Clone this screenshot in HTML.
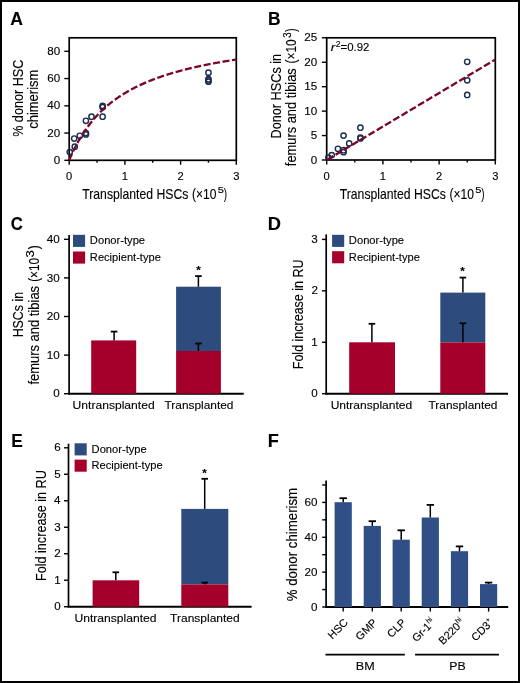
<!DOCTYPE html>
<html><head><meta charset="utf-8"><style>
html,body{margin:0;padding:0;background:#fff;}
svg{display:block;will-change:transform;}
text{font-family:"Liberation Sans", sans-serif;fill:#000;stroke:#000;stroke-width:0.12px;}
</style></head><body>
<svg width="520" height="683" viewBox="0 0 520 683">
<rect x="0" y="0" width="520" height="683" fill="#fff"/>
<text x="10.36" y="25.00" font-size="17.7" font-weight="bold" textLength="12.70" lengthAdjust="spacingAndGlyphs">A</text>
<text x="267.94" y="25.00" font-size="17.7" font-weight="bold" textLength="12.55" lengthAdjust="spacingAndGlyphs">B</text>
<text x="10.66" y="230.40" font-size="17.7" font-weight="bold" textLength="12.09" lengthAdjust="spacingAndGlyphs">C</text>
<text x="267.88" y="229.90" font-size="17.7" font-weight="bold" textLength="13.19" lengthAdjust="spacingAndGlyphs">D</text>
<text x="11.34" y="447.40" font-size="17.7" font-weight="bold" textLength="11.53" lengthAdjust="spacingAndGlyphs">E</text>
<text x="267.89" y="447.40" font-size="17.7" font-weight="bold" textLength="11.08" lengthAdjust="spacingAndGlyphs">F</text>
<rect x="69.2" y="37.8" width="167.10" height="122.50" fill="none" stroke="#000" stroke-width="1.7"/>
<line x1="64.30" y1="160.30" x2="69.20" y2="160.30" stroke="#000" stroke-width="1.4"/>
<text x="53.78" y="163.91" font-size="11.2" textLength="6.48" lengthAdjust="spacingAndGlyphs">0</text>
<line x1="64.30" y1="133.05" x2="69.20" y2="133.05" stroke="#000" stroke-width="1.4"/>
<text x="47.30" y="136.66" font-size="11.2" textLength="12.96" lengthAdjust="spacingAndGlyphs">20</text>
<line x1="64.30" y1="105.80" x2="69.20" y2="105.80" stroke="#000" stroke-width="1.4"/>
<text x="47.30" y="109.41" font-size="11.2" textLength="12.96" lengthAdjust="spacingAndGlyphs">40</text>
<line x1="64.30" y1="78.55" x2="69.20" y2="78.55" stroke="#000" stroke-width="1.4"/>
<text x="47.30" y="82.16" font-size="11.2" textLength="12.96" lengthAdjust="spacingAndGlyphs">60</text>
<line x1="64.30" y1="51.30" x2="69.20" y2="51.30" stroke="#000" stroke-width="1.4"/>
<text x="47.30" y="54.91" font-size="11.2" textLength="12.96" lengthAdjust="spacingAndGlyphs">80</text>
<line x1="69.20" y1="160.30" x2="69.20" y2="164.70" stroke="#000" stroke-width="1.4"/>
<text x="66.09" y="179.50" font-size="11.2" textLength="6.23" lengthAdjust="spacingAndGlyphs">0</text>
<line x1="97.05" y1="160.30" x2="97.05" y2="162.70" stroke="#000" stroke-width="1.4"/>
<line x1="124.90" y1="160.30" x2="124.90" y2="164.70" stroke="#000" stroke-width="1.4"/>
<text x="121.63" y="179.50" font-size="11.2" textLength="6.23" lengthAdjust="spacingAndGlyphs">1</text>
<line x1="152.75" y1="160.30" x2="152.75" y2="162.70" stroke="#000" stroke-width="1.4"/>
<line x1="180.60" y1="160.30" x2="180.60" y2="164.70" stroke="#000" stroke-width="1.4"/>
<text x="177.49" y="179.50" font-size="11.2" textLength="6.23" lengthAdjust="spacingAndGlyphs">2</text>
<line x1="208.45" y1="160.30" x2="208.45" y2="162.70" stroke="#000" stroke-width="1.4"/>
<line x1="236.30" y1="160.30" x2="236.30" y2="164.70" stroke="#000" stroke-width="1.4"/>
<text x="233.22" y="179.50" font-size="11.2" textLength="6.23" lengthAdjust="spacingAndGlyphs">3</text>
<text x="82.23" y="198.50" font-size="14.4" textLength="106.11" lengthAdjust="spacingAndGlyphs">Transplanted HSCs</text>
<text x="191.95" y="198.50" font-size="14.4" textLength="24.42" lengthAdjust="spacingAndGlyphs">(×10</text>
<text x="217.85" y="193.30" font-size="9.5" textLength="6.22" lengthAdjust="spacingAndGlyphs">5</text>
<text x="223.84" y="198.50" font-size="14.4" textLength="3.27" lengthAdjust="spacingAndGlyphs">)</text>
<text transform="translate(23.00,136.85) rotate(-90)" font-size="14.4" textLength="77.13" lengthAdjust="spacingAndGlyphs">% donor HSC</text>
<text transform="translate(38.40,128.85) rotate(-90)" font-size="14.4" textLength="59.21" lengthAdjust="spacingAndGlyphs">chimerism</text>
<circle cx="69.76" cy="152.12" r="2.65" fill="none" stroke="#1b2f52" stroke-width="1.45"/>
<circle cx="74.21" cy="138.50" r="2.65" fill="none" stroke="#1b2f52" stroke-width="1.45"/>
<circle cx="74.77" cy="146.68" r="2.65" fill="none" stroke="#1b2f52" stroke-width="1.45"/>
<circle cx="79.78" cy="135.78" r="2.65" fill="none" stroke="#1b2f52" stroke-width="1.45"/>
<circle cx="85.91" cy="120.79" r="2.65" fill="none" stroke="#1b2f52" stroke-width="1.45"/>
<circle cx="85.91" cy="133.05" r="2.65" fill="none" stroke="#1b2f52" stroke-width="1.45"/>
<circle cx="85.91" cy="134.41" r="2.65" fill="none" stroke="#1b2f52" stroke-width="1.45"/>
<circle cx="91.48" cy="116.70" r="2.65" fill="none" stroke="#1b2f52" stroke-width="1.45"/>
<circle cx="102.62" cy="105.80" r="2.65" fill="none" stroke="#1b2f52" stroke-width="1.45"/>
<circle cx="102.62" cy="107.16" r="2.65" fill="none" stroke="#1b2f52" stroke-width="1.45"/>
<circle cx="102.62" cy="116.70" r="2.65" fill="none" stroke="#1b2f52" stroke-width="1.45"/>
<circle cx="208.45" cy="72.69" r="2.65" fill="none" stroke="#1b2f52" stroke-width="1.45"/>
<circle cx="208.45" cy="79.23" r="2.65" fill="none" stroke="#1b2f52" stroke-width="1.45"/>
<circle cx="208.45" cy="80.46" r="2.65" fill="none" stroke="#1b2f52" stroke-width="1.45"/>
<circle cx="208.45" cy="81.68" r="2.65" fill="none" stroke="#1b2f52" stroke-width="1.45"/>
<polyline points="69.20,160.30 69.76,158.97 70.31,157.67 70.87,156.39 71.43,155.13 71.98,153.90 72.54,152.70 73.10,151.51 73.66,150.35 74.21,149.21 74.77,148.09 75.33,146.99 75.88,145.91 76.44,144.84 77.00,143.80 77.56,142.78 78.11,141.77 78.67,140.78 79.23,139.81 79.78,138.85 80.34,137.91 80.90,136.98 81.45,136.07 82.01,135.18 82.57,134.30 83.12,133.43 83.68,132.58 84.24,131.74 84.80,130.91 85.35,130.10 85.91,129.30 86.47,128.51 87.02,127.73 87.58,126.97 88.14,126.21 88.70,125.47 89.25,124.74 89.81,124.02 90.37,123.31 90.92,122.61 91.48,121.92 92.04,121.24 92.59,120.56 93.15,119.90 93.71,119.25 94.27,118.61 94.82,117.97 95.38,117.35 95.94,116.73 96.49,116.12 97.05,115.52 97.61,114.93 98.16,114.34 98.72,113.76 99.28,113.19 99.84,112.63 100.39,112.07 100.95,111.53 101.51,110.98 102.06,110.45 102.62,109.92 103.18,109.40 103.73,108.88 104.29,108.38 104.85,107.87 105.41,107.38 105.96,106.89 106.52,106.40 107.08,105.92 107.63,105.45 108.19,104.98 108.75,104.52 109.30,104.06 109.86,103.61 110.42,103.17 110.98,102.72 111.53,102.29 112.09,101.86 112.65,101.43 113.20,101.01 113.76,100.59 114.32,100.18 114.87,99.77 115.43,99.37 115.99,98.97 116.55,98.58 117.10,98.18 117.66,97.80 118.22,97.42 118.77,97.04 119.33,96.66 119.89,96.29 120.44,95.93 121.00,95.57 121.56,95.21 122.12,94.85 122.67,94.50 123.23,94.15 123.79,93.81 124.34,93.47 124.90,93.13 125.46,92.79 126.01,92.46 126.57,92.14 127.13,91.81 127.69,91.49 128.24,91.17 128.80,90.86 129.36,90.55 129.91,90.24 130.47,89.93 131.03,89.63 131.58,89.33 132.14,89.03 132.70,88.73 133.25,88.44 133.81,88.15 134.37,87.87 134.93,87.58 135.48,87.30 136.04,87.02 136.60,86.75 137.15,86.47 137.71,86.20 138.27,85.93 138.83,85.67 139.38,85.40 139.94,85.14 140.50,84.88 141.05,84.62 141.61,84.37 142.17,84.11 142.72,83.86 143.28,83.62 143.84,83.37 144.40,83.12 144.95,82.88 145.51,82.64 146.07,82.40 146.62,82.17 147.18,81.93 147.74,81.70 148.29,81.47 148.85,81.24 149.41,81.02 149.97,80.79 150.52,80.57 151.08,80.35 151.64,80.13 152.19,79.91 152.75,79.69 153.31,79.48 153.86,79.27 154.42,79.06 154.98,78.85 155.54,78.64 156.09,78.44 156.65,78.23 157.21,78.03 157.76,77.83 158.32,77.63 158.88,77.43 159.43,77.23 159.99,77.04 160.55,76.84 161.11,76.65 161.66,76.46 162.22,76.27 162.78,76.09 163.33,75.90 163.89,75.71 164.45,75.53 165.00,75.35 165.56,75.17 166.12,74.99 166.68,74.81 167.23,74.63 167.79,74.46 168.35,74.28 168.90,74.11 169.46,73.94 170.02,73.77 170.57,73.60 171.13,73.43 171.69,73.26 172.25,73.10 172.80,72.93 173.36,72.77 173.92,72.60 174.47,72.44 175.03,72.28 175.59,72.12 176.14,71.97 176.70,71.81 177.26,71.65 177.82,71.50 178.37,71.34 178.93,71.19 179.49,71.04 180.04,70.89 180.60,70.74 181.16,70.59 181.71,70.44 182.27,70.29 182.83,70.15 183.39,70.00 183.94,69.86 184.50,69.72 185.06,69.58 185.61,69.43 186.17,69.29 186.73,69.15 187.28,69.02 187.84,68.88 188.40,68.74 188.96,68.61 189.51,68.47 190.07,68.34 190.63,68.20 191.18,68.07 191.74,67.94 192.30,67.81 192.85,67.68 193.41,67.55 193.97,67.42 194.53,67.29 195.08,67.17 195.64,67.04 196.20,66.92 196.75,66.79 197.31,66.67 197.87,66.54 198.42,66.42 198.98,66.30 199.54,66.18 200.10,66.06 200.65,65.94 201.21,65.82 201.77,65.70 202.32,65.59 202.88,65.47 203.44,65.35 203.99,65.24 204.55,65.12 205.11,65.01 205.67,64.90 206.22,64.78 206.78,64.67 207.34,64.56 207.89,64.45 208.45,64.34 209.01,64.23 209.56,64.12 210.12,64.01 210.68,63.91 211.24,63.80 211.79,63.69 212.35,63.59 212.91,63.48 213.46,63.38 214.02,63.27 214.58,63.17 215.13,63.07 215.69,62.97 216.25,62.86 216.81,62.76 217.36,62.66 217.92,62.56 218.48,62.46 219.03,62.36 219.59,62.27 220.15,62.17 220.70,62.07 221.26,61.97 221.82,61.88 222.38,61.78 222.93,61.69 223.49,61.59 224.05,61.50 224.60,61.40 225.16,61.31 225.72,61.22 226.27,61.13 226.83,61.03 227.39,60.94 227.95,60.85 228.50,60.76 229.06,60.67 229.62,60.58 230.17,60.49 230.73,60.40 231.29,60.32 231.84,60.23 232.40,60.14 232.96,60.05 233.52,59.97 234.07,59.88 234.63,59.80 235.19,59.71 235.74,59.63 236.30,59.54" fill="none" stroke="#7d0428" stroke-width="2.3" stroke-dasharray="7 2.6" stroke-dashoffset="0"/>
<rect x="326.7" y="37.8" width="168.60" height="122.20" fill="none" stroke="#000" stroke-width="1.7"/>
<line x1="321.80" y1="160.00" x2="326.70" y2="160.00" stroke="#000" stroke-width="1.4"/>
<text x="310.68" y="163.61" font-size="11.2" textLength="6.48" lengthAdjust="spacingAndGlyphs">0</text>
<line x1="321.80" y1="135.56" x2="326.70" y2="135.56" stroke="#000" stroke-width="1.4"/>
<text x="310.71" y="139.17" font-size="11.2" textLength="6.48" lengthAdjust="spacingAndGlyphs">5</text>
<line x1="321.80" y1="111.12" x2="326.70" y2="111.12" stroke="#000" stroke-width="1.4"/>
<text x="304.20" y="114.73" font-size="11.2" textLength="12.96" lengthAdjust="spacingAndGlyphs">10</text>
<line x1="321.80" y1="86.68" x2="326.70" y2="86.68" stroke="#000" stroke-width="1.4"/>
<text x="304.23" y="90.29" font-size="11.2" textLength="12.96" lengthAdjust="spacingAndGlyphs">15</text>
<line x1="321.80" y1="62.24" x2="326.70" y2="62.24" stroke="#000" stroke-width="1.4"/>
<text x="304.20" y="65.85" font-size="11.2" textLength="12.96" lengthAdjust="spacingAndGlyphs">20</text>
<line x1="321.80" y1="37.80" x2="326.70" y2="37.80" stroke="#000" stroke-width="1.4"/>
<text x="304.23" y="41.41" font-size="11.2" textLength="12.96" lengthAdjust="spacingAndGlyphs">25</text>
<line x1="326.70" y1="160.00" x2="326.70" y2="164.40" stroke="#000" stroke-width="1.4"/>
<text x="323.59" y="179.50" font-size="11.2" textLength="6.23" lengthAdjust="spacingAndGlyphs">0</text>
<line x1="354.80" y1="160.00" x2="354.80" y2="162.40" stroke="#000" stroke-width="1.4"/>
<line x1="382.90" y1="160.00" x2="382.90" y2="164.40" stroke="#000" stroke-width="1.4"/>
<text x="379.63" y="179.50" font-size="11.2" textLength="6.23" lengthAdjust="spacingAndGlyphs">1</text>
<line x1="411.00" y1="160.00" x2="411.00" y2="162.40" stroke="#000" stroke-width="1.4"/>
<line x1="439.10" y1="160.00" x2="439.10" y2="164.40" stroke="#000" stroke-width="1.4"/>
<text x="435.99" y="179.50" font-size="11.2" textLength="6.23" lengthAdjust="spacingAndGlyphs">2</text>
<line x1="467.20" y1="160.00" x2="467.20" y2="162.40" stroke="#000" stroke-width="1.4"/>
<line x1="495.30" y1="160.00" x2="495.30" y2="164.40" stroke="#000" stroke-width="1.4"/>
<text x="492.22" y="179.50" font-size="11.2" textLength="6.23" lengthAdjust="spacingAndGlyphs">3</text>
<text x="339.73" y="198.50" font-size="14.4" textLength="106.11" lengthAdjust="spacingAndGlyphs">Transplanted HSCs</text>
<text x="449.45" y="198.50" font-size="14.4" textLength="24.42" lengthAdjust="spacingAndGlyphs">(×10</text>
<text x="475.35" y="193.30" font-size="9.5" textLength="6.22" lengthAdjust="spacingAndGlyphs">5</text>
<text x="481.34" y="198.50" font-size="14.4" textLength="3.27" lengthAdjust="spacingAndGlyphs">)</text>
<text transform="translate(280.60,138.44) rotate(-90)" font-size="14.4" textLength="84.56" lengthAdjust="spacingAndGlyphs">Donor HSCs in</text>
<text transform="translate(296.30,166.18) rotate(-90)" font-size="14.4" textLength="97.95" lengthAdjust="spacingAndGlyphs">femurs and tibias</text>
<text transform="translate(296.30,63.44) rotate(-90)" font-size="14.4" textLength="24.10" lengthAdjust="spacingAndGlyphs">(×10</text>
<text transform="translate(290.90,37.67) rotate(-90)" font-size="10" textLength="5.40" lengthAdjust="spacingAndGlyphs">3</text>
<text transform="translate(296.30,31.96) rotate(-90)" font-size="14.4" textLength="3.64" lengthAdjust="spacingAndGlyphs">)</text>
<text x="330.68" y="51.00" font-size="10.5" font-style="italic" textLength="4.47" lengthAdjust="spacingAndGlyphs">r</text>
<text x="335.87" y="47.30" font-size="8.2" textLength="4.76" lengthAdjust="spacingAndGlyphs">2</text>
<text x="340.64" y="51.00" font-size="10.5" textLength="28.83" lengthAdjust="spacingAndGlyphs">=0.92</text>
<circle cx="328.39" cy="157.56" r="2.65" fill="none" stroke="#1b2f52" stroke-width="1.45"/>
<circle cx="331.76" cy="155.11" r="2.65" fill="none" stroke="#1b2f52" stroke-width="1.45"/>
<circle cx="337.94" cy="148.76" r="2.65" fill="none" stroke="#1b2f52" stroke-width="1.45"/>
<circle cx="343.56" cy="135.56" r="2.65" fill="none" stroke="#1b2f52" stroke-width="1.45"/>
<circle cx="343.56" cy="150.22" r="2.65" fill="none" stroke="#1b2f52" stroke-width="1.45"/>
<circle cx="343.56" cy="152.18" r="2.65" fill="none" stroke="#1b2f52" stroke-width="1.45"/>
<circle cx="349.18" cy="143.38" r="2.65" fill="none" stroke="#1b2f52" stroke-width="1.45"/>
<circle cx="360.42" cy="127.74" r="2.65" fill="none" stroke="#1b2f52" stroke-width="1.45"/>
<circle cx="360.42" cy="137.52" r="2.65" fill="none" stroke="#1b2f52" stroke-width="1.45"/>
<circle cx="360.42" cy="138.49" r="2.65" fill="none" stroke="#1b2f52" stroke-width="1.45"/>
<circle cx="467.20" cy="61.75" r="2.65" fill="none" stroke="#1b2f52" stroke-width="1.45"/>
<circle cx="467.20" cy="80.33" r="2.65" fill="none" stroke="#1b2f52" stroke-width="1.45"/>
<circle cx="467.20" cy="94.99" r="2.65" fill="none" stroke="#1b2f52" stroke-width="1.45"/>
<line x1="326.7" y1="160.0" x2="495.3" y2="59.55" stroke="#7d0428" stroke-width="2.3" stroke-dasharray="7 2.6" stroke-dashoffset="-0.7"/>
<line x1="69.10" y1="235.00" x2="69.10" y2="394.50" stroke="#000" stroke-width="1.7"/>
<line x1="68.30" y1="393.70" x2="243.70" y2="393.70" stroke="#000" stroke-width="1.9"/>
<line x1="64.00" y1="393.70" x2="69.10" y2="393.70" stroke="#000" stroke-width="1.4"/>
<text x="53.28" y="397.31" font-size="11.2" textLength="6.48" lengthAdjust="spacingAndGlyphs">0</text>
<line x1="64.00" y1="355.10" x2="69.10" y2="355.10" stroke="#000" stroke-width="1.4"/>
<text x="46.80" y="358.71" font-size="11.2" textLength="12.96" lengthAdjust="spacingAndGlyphs">10</text>
<line x1="64.00" y1="316.50" x2="69.10" y2="316.50" stroke="#000" stroke-width="1.4"/>
<text x="46.80" y="320.11" font-size="11.2" textLength="12.96" lengthAdjust="spacingAndGlyphs">20</text>
<line x1="64.00" y1="277.90" x2="69.10" y2="277.90" stroke="#000" stroke-width="1.4"/>
<text x="46.80" y="281.51" font-size="11.2" textLength="12.96" lengthAdjust="spacingAndGlyphs">30</text>
<line x1="64.00" y1="239.30" x2="69.10" y2="239.30" stroke="#000" stroke-width="1.4"/>
<text x="46.80" y="242.91" font-size="11.2" textLength="12.96" lengthAdjust="spacingAndGlyphs">40</text>
<rect x="73.00" y="234.80" width="12.10" height="12.10" fill="#2d4b7c"/>
<rect x="73.00" y="251.50" width="12.10" height="12.10" fill="#a5002b"/>
<text x="89.88" y="244.30" font-size="11" textLength="55.21" lengthAdjust="spacingAndGlyphs">Donor-type</text>
<text x="89.89" y="261.00" font-size="11" textLength="71.00" lengthAdjust="spacingAndGlyphs">Recipient-type</text>
<rect x="91.20" y="340.40" width="45.00" height="53.30" fill="#a5002b"/>
<line x1="114.10" y1="340.40" x2="114.10" y2="331.60" stroke="#000" stroke-width="1.5"/>
<line x1="110.80" y1="331.60" x2="117.40" y2="331.60" stroke="#000" stroke-width="1.8"/>
<rect x="176.10" y="286.70" width="44.80" height="64.30" fill="#2d4b7c"/>
<rect x="176.10" y="351.00" width="44.80" height="42.70" fill="#a5002b"/>
<line x1="198.40" y1="286.70" x2="198.40" y2="276.10" stroke="#000" stroke-width="1.5"/>
<line x1="195.10" y1="276.10" x2="201.70" y2="276.10" stroke="#000" stroke-width="1.8"/>
<line x1="198.40" y1="351.00" x2="198.40" y2="343.50" stroke="#000" stroke-width="1.5"/>
<line x1="195.10" y1="343.50" x2="201.70" y2="343.50" stroke="#000" stroke-width="1.8"/>
<text x="198.45" y="273.50" font-size="11.5" font-weight="bold" text-anchor="middle">*</text>
<text x="72.57" y="408.60" font-size="11.6" textLength="82.11" lengthAdjust="spacingAndGlyphs">Untransplanted</text>
<text x="164.53" y="408.60" font-size="11.6" textLength="68.93" lengthAdjust="spacingAndGlyphs">Transplanted</text>
<text transform="translate(22.90,337.31) rotate(-90)" font-size="14.4" textLength="45.32" lengthAdjust="spacingAndGlyphs">HSCs in</text>
<text transform="translate(39.30,384.58) rotate(-90)" font-size="14.4" textLength="98.65" lengthAdjust="spacingAndGlyphs">femurs and tibias</text>
<text transform="translate(39.30,281.83) rotate(-90)" font-size="14.4" textLength="24.00" lengthAdjust="spacingAndGlyphs">(×10</text>
<text transform="translate(34.10,257.61) rotate(-90)" font-size="10" textLength="7.39" lengthAdjust="spacingAndGlyphs">3</text>
<text transform="translate(39.30,249.17) rotate(-90)" font-size="14.4" textLength="3.89" lengthAdjust="spacingAndGlyphs">)</text>
<line x1="326.20" y1="234.40" x2="326.20" y2="394.50" stroke="#000" stroke-width="1.7"/>
<line x1="325.40" y1="393.70" x2="508.00" y2="393.70" stroke="#000" stroke-width="1.9"/>
<line x1="322.00" y1="393.70" x2="326.20" y2="393.70" stroke="#000" stroke-width="1.4"/>
<text x="311.28" y="397.31" font-size="11.2" textLength="6.48" lengthAdjust="spacingAndGlyphs">0</text>
<line x1="322.00" y1="342.27" x2="326.20" y2="342.27" stroke="#000" stroke-width="1.4"/>
<text x="311.39" y="345.88" font-size="11.2" textLength="6.48" lengthAdjust="spacingAndGlyphs">1</text>
<line x1="322.00" y1="290.83" x2="326.20" y2="290.83" stroke="#000" stroke-width="1.4"/>
<text x="311.41" y="294.44" font-size="11.2" textLength="6.48" lengthAdjust="spacingAndGlyphs">2</text>
<line x1="322.00" y1="239.40" x2="326.20" y2="239.40" stroke="#000" stroke-width="1.4"/>
<text x="311.33" y="243.01" font-size="11.2" textLength="6.48" lengthAdjust="spacingAndGlyphs">3</text>
<rect x="332.10" y="234.80" width="12.10" height="12.10" fill="#2d4b7c"/>
<rect x="332.10" y="251.20" width="12.10" height="12.10" fill="#a5002b"/>
<text x="348.88" y="244.30" font-size="11" textLength="55.21" lengthAdjust="spacingAndGlyphs">Donor-type</text>
<text x="348.89" y="260.70" font-size="11" textLength="71.00" lengthAdjust="spacingAndGlyphs">Recipient-type</text>
<rect x="349.20" y="342.30" width="45.80" height="51.40" fill="#a5002b"/>
<line x1="371.90" y1="342.30" x2="371.90" y2="323.80" stroke="#000" stroke-width="1.5"/>
<line x1="368.60" y1="323.80" x2="375.20" y2="323.80" stroke="#000" stroke-width="1.8"/>
<rect x="440.30" y="292.60" width="45.00" height="49.80" fill="#2d4b7c"/>
<rect x="440.30" y="342.40" width="45.00" height="51.30" fill="#a5002b"/>
<line x1="462.90" y1="292.60" x2="462.90" y2="277.60" stroke="#000" stroke-width="1.5"/>
<line x1="459.60" y1="277.60" x2="466.20" y2="277.60" stroke="#000" stroke-width="1.8"/>
<line x1="462.90" y1="342.40" x2="462.90" y2="323.30" stroke="#000" stroke-width="1.5"/>
<line x1="459.60" y1="323.30" x2="466.20" y2="323.30" stroke="#000" stroke-width="1.8"/>
<text x="462.40" y="275.30" font-size="11.5" font-weight="bold" text-anchor="middle">*</text>
<text x="330.67" y="408.60" font-size="11.6" textLength="81.50" lengthAdjust="spacingAndGlyphs">Untransplanted</text>
<text x="428.53" y="408.60" font-size="11.6" textLength="68.93" lengthAdjust="spacingAndGlyphs">Transplanted</text>
<text transform="translate(303.40,369.23) rotate(-90)" font-size="14.4" textLength="109.79" lengthAdjust="spacingAndGlyphs">Fold increase in RU</text>
<line x1="68.50" y1="443.70" x2="68.50" y2="607.50" stroke="#000" stroke-width="1.7"/>
<line x1="67.70" y1="606.70" x2="251.60" y2="606.70" stroke="#000" stroke-width="1.9"/>
<line x1="64.00" y1="606.70" x2="68.50" y2="606.70" stroke="#000" stroke-width="1.4"/>
<text x="54.18" y="610.31" font-size="11.2" textLength="6.48" lengthAdjust="spacingAndGlyphs">0</text>
<line x1="64.00" y1="580.22" x2="68.50" y2="580.22" stroke="#000" stroke-width="1.4"/>
<text x="54.29" y="583.83" font-size="11.2" textLength="6.48" lengthAdjust="spacingAndGlyphs">1</text>
<line x1="64.00" y1="553.73" x2="68.50" y2="553.73" stroke="#000" stroke-width="1.4"/>
<text x="54.31" y="557.34" font-size="11.2" textLength="6.48" lengthAdjust="spacingAndGlyphs">2</text>
<line x1="64.00" y1="527.25" x2="68.50" y2="527.25" stroke="#000" stroke-width="1.4"/>
<text x="54.23" y="530.86" font-size="11.2" textLength="6.48" lengthAdjust="spacingAndGlyphs">3</text>
<line x1="64.00" y1="500.77" x2="68.50" y2="500.77" stroke="#000" stroke-width="1.4"/>
<text x="54.06" y="504.38" font-size="11.2" textLength="6.48" lengthAdjust="spacingAndGlyphs">4</text>
<line x1="64.00" y1="474.28" x2="68.50" y2="474.28" stroke="#000" stroke-width="1.4"/>
<text x="54.21" y="477.89" font-size="11.2" textLength="6.48" lengthAdjust="spacingAndGlyphs">5</text>
<line x1="64.00" y1="447.80" x2="68.50" y2="447.80" stroke="#000" stroke-width="1.4"/>
<text x="54.23" y="451.41" font-size="11.2" textLength="6.48" lengthAdjust="spacingAndGlyphs">6</text>
<rect x="74.60" y="443.30" width="12.10" height="12.10" fill="#2d4b7c"/>
<rect x="74.60" y="459.60" width="12.10" height="12.10" fill="#a5002b"/>
<text x="91.58" y="452.80" font-size="11" textLength="55.21" lengthAdjust="spacingAndGlyphs">Donor-type</text>
<text x="91.59" y="469.10" font-size="11" textLength="71.00" lengthAdjust="spacingAndGlyphs">Recipient-type</text>
<rect x="92.60" y="580.30" width="46.60" height="26.40" fill="#a5002b"/>
<line x1="115.80" y1="580.30" x2="115.80" y2="572.30" stroke="#000" stroke-width="1.5"/>
<line x1="112.50" y1="572.30" x2="119.10" y2="572.30" stroke="#000" stroke-width="1.8"/>
<rect x="181.30" y="508.90" width="47.00" height="75.50" fill="#2d4b7c"/>
<rect x="181.30" y="584.40" width="47.00" height="22.30" fill="#a5002b"/>
<line x1="204.70" y1="508.90" x2="204.70" y2="478.80" stroke="#000" stroke-width="1.5"/>
<line x1="201.40" y1="478.80" x2="208.00" y2="478.80" stroke="#000" stroke-width="1.8"/>
<line x1="204.70" y1="584.40" x2="204.70" y2="582.60" stroke="#000" stroke-width="1.5"/>
<line x1="201.40" y1="582.60" x2="208.00" y2="582.60" stroke="#000" stroke-width="1.8"/>
<text x="204.55" y="476.50" font-size="11.5" font-weight="bold" text-anchor="middle">*</text>
<text x="74.47" y="621.70" font-size="11.6" textLength="82.11" lengthAdjust="spacingAndGlyphs">Untransplanted</text>
<text x="170.13" y="621.70" font-size="11.6" textLength="69.54" lengthAdjust="spacingAndGlyphs">Transplanted</text>
<text transform="translate(45.90,581.04) rotate(-90)" font-size="14.4" textLength="110.91" lengthAdjust="spacingAndGlyphs">Fold increase in RU</text>
<line x1="326.10" y1="480.40" x2="326.10" y2="607.80" stroke="#000" stroke-width="1.7"/>
<line x1="325.30" y1="607.00" x2="508.20" y2="607.00" stroke="#000" stroke-width="1.9"/>
<line x1="322.20" y1="607.00" x2="326.10" y2="607.00" stroke="#000" stroke-width="1.4"/>
<text x="310.98" y="610.61" font-size="11.2" textLength="6.48" lengthAdjust="spacingAndGlyphs">0</text>
<line x1="322.20" y1="589.57" x2="326.10" y2="589.57" stroke="#000" stroke-width="1.4"/>
<line x1="322.20" y1="572.13" x2="326.10" y2="572.13" stroke="#000" stroke-width="1.4"/>
<text x="304.50" y="575.74" font-size="11.2" textLength="12.96" lengthAdjust="spacingAndGlyphs">20</text>
<line x1="322.20" y1="554.70" x2="326.10" y2="554.70" stroke="#000" stroke-width="1.4"/>
<line x1="322.20" y1="537.27" x2="326.10" y2="537.27" stroke="#000" stroke-width="1.4"/>
<text x="304.50" y="540.88" font-size="11.2" textLength="12.96" lengthAdjust="spacingAndGlyphs">40</text>
<line x1="322.20" y1="519.83" x2="326.10" y2="519.83" stroke="#000" stroke-width="1.4"/>
<line x1="322.20" y1="502.40" x2="326.10" y2="502.40" stroke="#000" stroke-width="1.4"/>
<text x="304.50" y="506.01" font-size="11.2" textLength="12.96" lengthAdjust="spacingAndGlyphs">60</text>
<line x1="322.20" y1="484.97" x2="326.10" y2="484.97" stroke="#000" stroke-width="1.4"/>
<rect x="334.60" y="502.20" width="17.20" height="104.80" fill="#2f4f86"/>
<line x1="343.20" y1="502.20" x2="343.20" y2="498.20" stroke="#000" stroke-width="1.5"/>
<line x1="339.50" y1="498.20" x2="346.90" y2="498.20" stroke="#000" stroke-width="1.8"/>
<line x1="343.20" y1="607.00" x2="343.20" y2="611.60" stroke="#000" stroke-width="1.4"/>
<rect x="363.70" y="525.90" width="17.20" height="81.10" fill="#2f4f86"/>
<line x1="372.30" y1="525.90" x2="372.30" y2="521.20" stroke="#000" stroke-width="1.5"/>
<line x1="368.60" y1="521.20" x2="376.00" y2="521.20" stroke="#000" stroke-width="1.8"/>
<line x1="372.30" y1="607.00" x2="372.30" y2="611.60" stroke="#000" stroke-width="1.4"/>
<rect x="392.60" y="539.70" width="17.20" height="67.30" fill="#2f4f86"/>
<line x1="401.20" y1="539.70" x2="401.20" y2="530.30" stroke="#000" stroke-width="1.5"/>
<line x1="397.50" y1="530.30" x2="404.90" y2="530.30" stroke="#000" stroke-width="1.8"/>
<line x1="401.20" y1="607.00" x2="401.20" y2="611.60" stroke="#000" stroke-width="1.4"/>
<rect x="421.70" y="517.50" width="17.20" height="89.50" fill="#2f4f86"/>
<line x1="430.30" y1="517.50" x2="430.30" y2="504.90" stroke="#000" stroke-width="1.5"/>
<line x1="426.60" y1="504.90" x2="434.00" y2="504.90" stroke="#000" stroke-width="1.8"/>
<line x1="430.30" y1="607.00" x2="430.30" y2="611.60" stroke="#000" stroke-width="1.4"/>
<rect x="450.90" y="551.20" width="17.20" height="55.80" fill="#2f4f86"/>
<line x1="459.50" y1="551.20" x2="459.50" y2="546.40" stroke="#000" stroke-width="1.5"/>
<line x1="455.80" y1="546.40" x2="463.20" y2="546.40" stroke="#000" stroke-width="1.8"/>
<line x1="459.50" y1="607.00" x2="459.50" y2="611.60" stroke="#000" stroke-width="1.4"/>
<rect x="480.00" y="584.10" width="17.20" height="22.90" fill="#2f4f86"/>
<line x1="488.60" y1="584.10" x2="488.60" y2="582.60" stroke="#000" stroke-width="1.5"/>
<line x1="484.90" y1="582.60" x2="492.30" y2="582.60" stroke="#000" stroke-width="1.8"/>
<line x1="488.60" y1="607.00" x2="488.60" y2="611.60" stroke="#000" stroke-width="1.4"/>
<text transform="translate(348.70,623.2) rotate(-45)" font-size="11" text-anchor="end">HSC</text>
<text transform="translate(377.80,623.2) rotate(-45)" font-size="11" text-anchor="end">GMP</text>
<text transform="translate(406.70,623.2) rotate(-45)" font-size="11" text-anchor="end">CLP</text>
<text transform="translate(435.80,623.2) rotate(-45)" font-size="11" text-anchor="end">Gr-1<tspan font-size="7" dy="-4.5">hi</tspan></text>
<text transform="translate(465.00,623.2) rotate(-45)" font-size="11" text-anchor="end">B220<tspan font-size="7" dy="-4.5">hi</tspan></text>
<text transform="translate(494.10,623.2) rotate(-45)" font-size="11" text-anchor="end">CD3<tspan font-size="7" dy="-4.5">+</tspan></text>
<line x1="325.50" y1="654.70" x2="404.80" y2="654.70" stroke="#000" stroke-width="1.8"/>
<line x1="415.10" y1="654.70" x2="499.00" y2="654.70" stroke="#000" stroke-width="1.8"/>
<text x="355.77" y="669.70" font-size="11" textLength="18.86" lengthAdjust="spacingAndGlyphs">BM</text>
<text x="449.29" y="669.70" font-size="11" textLength="16.35" lengthAdjust="spacingAndGlyphs">PB</text>
<text transform="translate(297.40,601.27) rotate(-90)" font-size="14.4" textLength="113.45" lengthAdjust="spacingAndGlyphs">% donor chimerism</text>
<rect x="1" y="1" width="518" height="681" fill="none" stroke="#000" stroke-width="2"/>
</svg>
</body></html>
